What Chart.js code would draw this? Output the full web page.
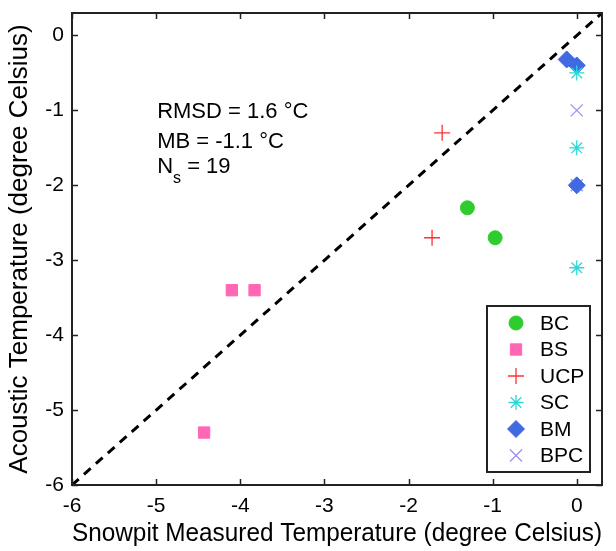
<!DOCTYPE html>
<html>
<head>
<meta charset="utf-8">
<script src="https://cdn.jsdelivr.net/npm/chart.js@4.4.1/dist/chart.umd.min.js"></script>
<style>
  html, body { margin: 0; padding: 0; background: #fff; }
  #wrap { width: 616px; height: 551px; }
</style>
</head>
<body>
<div id="wrap"><canvas id="c" width="616" height="551"></canvas></div>
<script>
// ---- data ----
const seriesNames = ['BC', 'BS', 'UCP', 'SC', 'BM', 'BPC'];
const bcX  = [-1.30, -0.97];
const bcY  = [-2.30, -2.70];
const bsX  = [-4.10, -3.83, -4.43];
const bsY  = [-3.40, -3.40, -5.30];
const ucpX = [-1.60, -1.72];
const ucpY = [-1.30, -2.70];
const scX  = [0.00, 0.00, 0.00];
const scY  = [-0.50, -1.50, -3.10];
const bmX  = [-0.12, 0.00, 0.00];
const bmY  = [-0.32, -0.40, -2.00];
const bpcX = [0.00, 0.00];
const bpcY = [-1.00, -2.00];
const oneToOne = [-6, 0.3];
const tickValues = [-6, -5, -4, -3, -2, -1, 0];
const statsLines = ['RMSD = 1.6 \u00B0C', 'MB = -1.1 \u00B0C', 'N_s = 19'];
const xTitle = 'Snowpit Measured Temperature (degree Celsius)';
const yTitle = 'Acoustic Temperature (degree Celsius)';

const FONT = "'Liberation Sans', Arial, Helvetica, sans-serif";
const pts = (xs, ys) => xs.map((x, i) => ({x: x, y: ys[i]}));

const styles = [
  {pointStyle: 'circle',   radius: 7,   color: '#2fcc2f', fill: true,  bw: 1},
  {pointStyle: 'rect',     radius: 8,   color: '#ff66b3', fill: true,  bw: 1},
  {pointStyle: 'cross',    radius: 8,   color: '#ff3030', fill: false, bw: 1.3},
  {pointStyle: 'star',     radius: 7.5, color: '#2ad8d8', fill: false, bw: 1.3},
  {pointStyle: 'rectRot',  radius: 8.5, color: '#4169e1', fill: true,  bw: 1},
  {pointStyle: 'crossRot', radius: 8.5, color: '#9d8ff0', fill: false, bw: 1.3}
];
const seriesData = [pts(bcX, bcY), pts(bsX, bsY), pts(ucpX, ucpY), pts(scX, scY), pts(bmX, bmY), pts(bpcX, bpcY)];

const datasets = [{
  type: 'line',
  label: '1:1',
  data: pts(oneToOne, oneToOne),
  borderColor: '#000',
  borderWidth: 3,
  borderDash: [9, 7],
  pointRadius: 0,
  fill: false,
  order: 10
}];
seriesNames.forEach((n, i) => {
  const s = styles[i];
  datasets.push({
    type: 'scatter',
    label: n,
    data: seriesData[i],
    pointStyle: s.pointStyle,
    pointRadius: s.radius,
    pointHoverRadius: s.radius,
    backgroundColor: s.fill ? s.color : 'rgba(0,0,0,0)',
    borderColor: s.color,
    pointBorderWidth: s.bw,
    borderWidth: s.bw,
    order: 1
  });
});

const framePlugin = {
  id: 'frame',
  afterDatasetsDraw(chart) {
    const {ctx, chartArea: a, scales} = chart;
    ctx.save();
    // inward ticks
    ctx.strokeStyle = '#222';
    ctx.lineWidth = 1.5;
    const tl = 6;
    tickValues.forEach(v => {
      const px = Math.round(scales.x.getPixelForValue(v)) + 0.5;
      ctx.beginPath();
      ctx.moveTo(px, a.bottom); ctx.lineTo(px, a.bottom - tl);
      ctx.moveTo(px, a.top); ctx.lineTo(px, a.top + tl);
      ctx.stroke();
      const py = Math.round(scales.y.getPixelForValue(v)) + 0.5;
      ctx.beginPath();
      ctx.moveTo(a.left, py); ctx.lineTo(a.left + tl, py);
      ctx.moveTo(a.right, py); ctx.lineTo(a.right - tl, py);
      ctx.stroke();
    });
    // box
    ctx.lineWidth = 2;
    ctx.strokeRect(a.left, a.top, a.right - a.left, a.bottom - a.top);

    // stats text
    ctx.fillStyle = '#000';
    ctx.textBaseline = 'middle';
    ctx.textAlign = 'left';
    const tx = scales.x.getPixelForValue(-5) + 1;
    const ys = [112, 142, 167];
    statsLines.forEach((line, i) => {
      const y = ys[i];
      if (line.indexOf('_') >= 0) {
        const base = line.split('_')[0];
        const rest = line.split('_')[1];
        const sub = rest.charAt(0);
        const tail = rest.slice(1);
        ctx.font = '22px ' + FONT;
        ctx.fillText(base, tx, y);
        let x = tx + ctx.measureText(base).width;
        ctx.font = '16px ' + FONT;
        ctx.fillText(sub, x, y + 12);
        x += ctx.measureText(sub).width;
        ctx.font = '22px ' + FONT;
        ctx.fillText(tail, x, y);
      } else {
        ctx.font = '22px ' + FONT;
        ctx.fillText(line, tx, y);
      }
    });

    // legend
    const bx = a.right - 115, bw = 103, by = a.bottom - 179, bh = 166;
    ctx.fillStyle = '#fff';
    ctx.fillRect(bx, by, bw, bh);
    ctx.strokeStyle = '#222';
    ctx.lineWidth = 2;
    ctx.strokeRect(bx, by, bw, bh);
    ctx.font = '21px ' + FONT;
    ctx.textBaseline = 'middle';
    seriesNames.forEach((n, i) => {
      const s = styles[i];
      const cy = by + 17 + i * 26.5;
      const cx = bx + 29;
      if (Chart.helpers && Chart.helpers.drawPoint) {
        ctx.save();
        ctx.fillStyle = s.fill ? s.color : 'rgba(0,0,0,0)';
        ctx.strokeStyle = s.color;
        ctx.lineWidth = s.bw;
        Chart.helpers.drawPoint(ctx, {pointStyle: s.pointStyle, radius: s.radius, rotation: 0, borderWidth: s.bw}, cx, cy);
        ctx.restore();
      }
      ctx.fillStyle = '#000';
      ctx.fillText(n, bx + 53, cy + 1);
    });
    ctx.restore();
  }
};

new Chart(document.getElementById('c'), {
  data: {datasets: datasets},
  options: {
    responsive: false,
    animation: false,
    devicePixelRatio: 1,
    layout: {padding: {top: 13, right: 14, left: 0, bottom: 0}},
    plugins: {legend: {display: false}, tooltip: {enabled: false}},
    scales: {
      x: {
        type: 'linear',
        position: 'bottom',
        min: -6, max: 0.3,
        afterBuildTicks: (s) => { s.ticks = tickValues.map(v => ({value: v})); },
        afterFit: (s) => { s.height = 66; s.paddingLeft = 0; s.paddingRight = 0; },
        ticks: {color: '#000', font: {family: FONT, size: 21}, padding: 9, maxRotation: 0, autoSkip: false},
        grid: {display: false, drawTicks: false},
        border: {display: false},
        title: {display: true, text: xTitle, color: '#000', font: {family: FONT, size: 26}, padding: {top: 0, bottom: 2}}
      },
      y: {
        type: 'linear',
        position: 'left',
        min: -6, max: 0.3,
        afterBuildTicks: (s) => { s.ticks = tickValues.map(v => ({value: v})); },
        afterFit: (s) => { s.width = 72; s.paddingTop = 0; s.paddingBottom = 0; },
        ticks: {color: '#000', font: {family: FONT, size: 21}, padding: 8, autoSkip: false},
        grid: {display: false, drawTicks: false},
        border: {display: false},
        title: {display: true, text: yTitle, color: '#000', font: {family: FONT, size: 26}, padding: {top: 4, bottom: 0}}
      }
    }
  },
  plugins: [framePlugin]
});
</script>
</body>
</html>
